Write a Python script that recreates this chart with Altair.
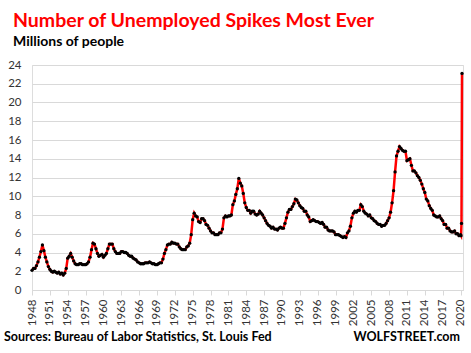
import altair as alt
import pandas as pd

# Quarterly estimates (millions), quarters starting Jan, Apr, Jul, Oct
years = list(range(1948, 2020))
q_values = [
    [2.1, 2.3, 2.3, 2.6],   # 1948
    [3.0, 3.5, 4.1, 4.8],   # 1949
    [4.2, 3.5, 3.0, 2.5],   # 1950
    [2.2, 2.0, 1.9, 2.0],   # 1951
    [1.9, 1.8, 1.9, 1.7],   # 1952
    [1.8, 1.6, 1.8, 2.3],   # 1953
    [3.4, 3.6, 3.9, 3.5],   # 1954
    [3.1, 2.8, 2.7, 2.7],   # 1955
    [2.8, 2.8, 2.7, 2.7],   # 1956
    [2.7, 2.8, 3.0, 3.5],   # 1957
    [4.3, 5.0, 4.9, 4.4],   # 1958
    [3.9, 3.6, 3.7, 3.8],   # 1959
    [3.5, 3.7, 3.9, 4.4],   # 1960
    [4.9, 4.9, 4.9, 4.4],   # 1961
    [4.1, 3.9, 3.9, 3.9],   # 1962
    [4.1, 4.1, 4.0, 4.0],   # 1963
    [3.9, 3.7, 3.6, 3.6],   # 1964
    [3.4, 3.3, 3.2, 3.0],   # 1965
    [2.9, 2.8, 2.8, 2.8],   # 1966
    [2.9, 2.9, 2.9, 3.0],   # 1967
    [2.9, 2.8, 2.8, 2.7],   # 1968
    [2.7, 2.8, 2.9, 2.9],   # 1969
    [3.3, 3.9, 4.3, 4.8],   # 1970
    [4.9, 4.9, 5.1, 5.0],   # 1971
    [5.0, 4.9, 4.9, 4.6],   # 1972
    [4.4, 4.3, 4.3, 4.3],   # 1973
    [4.6, 4.7, 5.0, 5.9],   # 1974
    [7.5, 8.2, 7.9, 7.8],   # 1975
    [7.3, 7.2, 7.6, 7.6],   # 1976
    [7.4, 7.0, 6.9, 6.6],   # 1977
    [6.3, 6.1, 6.1, 5.9],   # 1978
    [5.9, 5.9, 6.1, 6.1],   # 1979
    [6.5, 7.7, 7.9, 7.8],   # 1980
    [7.9, 7.9, 8.0, 9.1],   # 1981
    [9.5, 10.2, 10.8, 11.9],  # 1982
    [11.4, 11.1, 10.3, 9.3],  # 1983
    [8.8, 8.5, 8.5, 8.2],   # 1984
    [8.4, 8.4, 8.1, 8.0],   # 1985
    [8.1, 8.4, 8.2, 8.0],   # 1986
    [7.7, 7.4, 7.1, 6.9],   # 1987
    [6.8, 6.6, 6.7, 6.5],   # 1988
    [6.5, 6.4, 6.6, 6.7],   # 1989
    [6.6, 6.6, 7.1, 7.7],   # 1990
    [8.3, 8.6, 8.6, 8.9],   # 1991
    [9.2, 9.7, 9.6, 9.3],   # 1992
    [9.0, 8.8, 8.7, 8.4],   # 1993
    [8.4, 8.0, 7.8, 7.3],   # 1994
    [7.4, 7.5, 7.4, 7.3],   # 1995
    [7.3, 7.2, 7.1, 7.2],   # 1996
    [7.0, 6.7, 6.7, 6.4],   # 1997
    [6.3, 6.3, 6.3, 6.2],   # 1998
    [5.9, 5.9, 5.9, 5.8],   # 1999
    [5.7, 5.6, 5.7, 5.6],   # 2000
    [6.1, 6.3, 6.8, 7.7],   # 2001
    [8.2, 8.4, 8.3, 8.5],   # 2002
    [8.5, 9.1, 8.9, 8.4],   # 2003
    [8.2, 8.1, 7.9, 8.0],   # 2004
    [7.7, 7.6, 7.4, 7.3],   # 2005
    [7.1, 7.0, 7.0, 6.8],   # 2006
    [6.9, 6.9, 7.1, 7.4],   # 2007
    [7.7, 8.3, 9.3, 10.6],  # 2008
    [12.6, 14.3, 14.8, 15.3],  # 2009
    [15.1, 14.9, 14.8, 14.8],  # 2010
    [13.8, 13.9, 14.0, 13.3],  # 2011
    [12.7, 12.7, 12.5, 12.2],  # 2012
    [12.0, 11.7, 11.3, 10.8],  # 2013
    [10.4, 9.7, 9.5, 9.0],  # 2014
    [8.7, 8.5, 8.0, 7.9],   # 2015
    [7.8, 7.8, 7.9, 7.6],   # 2016
    [7.4, 7.0, 7.0, 6.6],   # 2017
    [6.6, 6.3, 6.2, 6.2],   # 2018
    [6.3, 6.0, 6.0, 5.8],   # 2019
]
months_2020 = ["2020-01-01T00:00:00", "2020-02-01T00:00:00",
               "2020-03-01T00:00:00", "2020-04-01T00:00:00"]
values_2020 = [5.9, 5.8, 7.1, 23.1]

title_text = "Number of Unemployed Spikes Most Ever"
subtitle_text = "Millions of people"
source_text = ["Sources: Bureau of Labor Statistics, St. Louis Fed"]
brand_text = ["WOLFSTREET.com"]
tick_years = list(range(1948, 2021, 3))
y_ticks = list(range(0, 25, 2))

q_months = ["01", "04", "07", "10"]
dates, vals = [], []
for y, row in zip(years, q_values):
    for m, v in zip(q_months, row):
        dates.append(f"{y}-{m}-01T00:00:00")
        vals.append(v)
dates += months_2020
vals += values_2020
df = pd.DataFrame({"date": dates, "unemployed": vals})

FONT = "Lato"

line = alt.Chart(df).mark_line(
    color="#ff0000", strokeWidth=2.5,
    point=alt.OverlayMarkDef(filled=True, color="black", size=11, opacity=1),
).encode(
    x=alt.X("date:T",
            scale=alt.Scale(domain=[alt.DateTime(year=1948, month=1, date=1),
                                    alt.DateTime(year=2020, month=6, date=1)]),
            axis=alt.Axis(values=[alt.DateTime(year=y, month=1, date=1) for y in tick_years],
                          format="%Y", labelAngle=270, labelAlign="right",
                          labelBaseline="middle", labelPadding=4,
                          labelFont=FONT, labelFontSize=11.5, labelColor="#333333",
                          tickColor="#d9d9d9", tickSize=5, domainColor="#d9d9d9",
                          grid=False, title=None, labelOverlap=False)),
    y=alt.Y("unemployed:Q",
            scale=alt.Scale(domain=[0, 24], nice=False),
            axis=alt.Axis(values=y_ticks, labelFont=FONT, labelFontSize=11.5,
                          labelColor="#333333", labelPadding=11, ticks=False,
                          domain=False, gridColor="#d9d9d9", title=None)),
)

source = alt.Chart(pd.DataFrame({"t": source_text})).mark_text(
    align="left", baseline="alphabetic", font=FONT, fontSize=12.5,
    fontWeight="bold", color="black",
).encode(text="t:N", x=alt.value(-28), y=alt.value(276))

brand = alt.Chart(pd.DataFrame({"t": brand_text})).mark_text(
    align="right", baseline="alphabetic", font=FONT, fontSize=12.5,
    fontWeight="bold", color="black",
).encode(text="t:N", x=alt.value(428), y=alt.value(276))

chart = alt.layer(line, source, brand).properties(
    width=431, height=225,
    autosize=alt.AutoSizeParams(type="none"),
    padding={"left": 32, "top": 65, "right": 8, "bottom": 63},
    title=alt.TitleParams(
        text=title_text, subtitle=subtitle_text, anchor="start", frame="group",
        dx=-19, offset=9, font=FONT, fontSize=19.5, fontWeight="bold", color="#ff0000",
        subtitleFont=FONT, subtitleFontSize=14, subtitleFontWeight="bold",
        subtitleColor="black", subtitlePadding=4,
    ),
).configure_view(stroke=None).configure(background="white")

chart.save("out.html", embed_options={"renderer": "svg", "actions": False})
